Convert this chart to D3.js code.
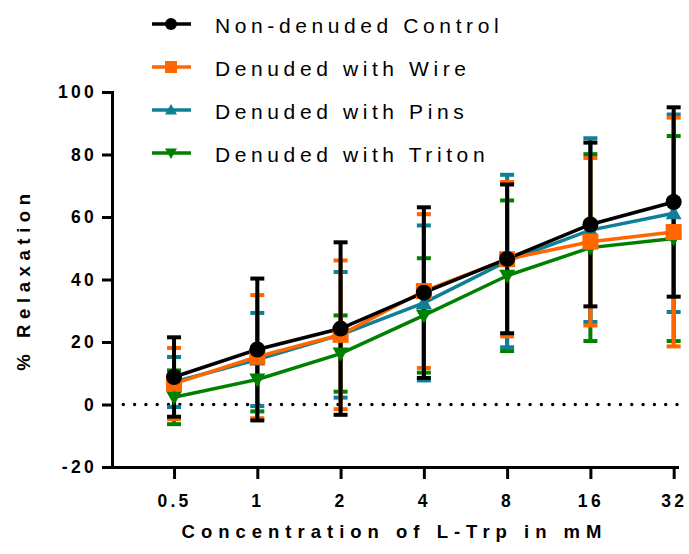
<!DOCTYPE html>
<html>
<head>
<meta charset="utf-8">
<script src="https://cdn.jsdelivr.net/npm/d3@7"></script>
<style>
  body { margin: 0; background: #fff; }
  svg text { font-family: "Liberation Sans", Arial, sans-serif; fill: #000; }
</style>
</head>
<body>
<svg id="chart" width="689" height="554"></svg>
<script>
// concentrations (mM) on a log2 axis
var concLabels = ["0.5", "1", "2", "4", "8", "16", "32"];
var concValues = [0.5, 1, 2, 4, 8, 16, 32];

var seriesNames = ["Non-denuded Control", "Denuded with Wire", "Denuded with Pins", "Denuded with Triton"];
var seriesColors = ["#000000", "#ff6600", "#0e7f96", "#008000"];
var seriesShapes = ["circle", "square", "triangle", "triangleDown"];

// mean % relaxation
var controlMean = [8.8, 17.6, 24.3, 35.8, 46.6, 57.6, 64.8];
var wireMean    = [6.7, 15.3, 22.3, 36.3, 46.5, 52.1, 55.2];
var pinsMean    = [7.2, 14.4, 22.3, 32.5, 45.9, 55.8, 61.2];
var tritonMean  = [2.3, 8.0, 16.3, 28.5, 41.2, 50.2, 53.1];

// error (SD)
var controlErr = [12.7, 22.7, 27.6, 27.3, 23.8, 26.2, 30.3];
var wireErr    = [11.4, 19.7, 23.8, 24.6, 24.7, 26.8, 36.6];
var pinsErr    = [8.0, 14.9, 20.1, 24.8, 27.6, 29.4, 31.6];
var tritonErr  = [8.6, 10.2, 12.2, 18.3, 24.1, 29.9, 32.8];

var yTicks = [-20, 0, 20, 40, 60, 80, 100];

var means = [controlMean, wireMean, pinsMean, tritonMean];
var errs = [controlErr, wireErr, pinsErr, tritonErr];

var svg = d3.select("#chart");

// scales
var x = d3.scaleLinear().domain([-1.745, 5.04]).range([112, 677]);
var y = d3.scaleLinear().domain([-20, 100]).range([467, 92]);

// build series
var series = seriesNames.map(function(name, s) {
  return {
    name: name,
    color: seriesColors[s],
    shape: seriesShapes[s],
    points: concValues.map(function(c, i) {
      return {c: c, mean: means[s][i], err: errs[s][i]};
    })
  };
});

// draw order: last series at the bottom, control on top
var drawOrder = series.slice().reverse();

function markerPath(shape, size) {
  var h = size / 2;
  if (shape === "square") return "M" + (-h) + "," + (-h) + "h" + size + "v" + size + "h" + (-size) + "Z";
  if (shape === "triangle") return "M0," + (-h) + "L" + h + "," + (h * 0.75) + "L" + (-h) + "," + (h * 0.75) + "Z";
  if (shape === "triangleDown") return "M0," + h + "L" + h + "," + (-h * 0.75) + "L" + (-h) + "," + (-h * 0.75) + "Z";
  return null;
}

// zero reference line (dotted)
svg.append("line")
  .attr("x1", 123.3).attr("x2", 677)
  .attr("y1", y(0)).attr("y2", y(0))
  .attr("stroke", "#000")
  .attr("stroke-width", 3.4)
  .attr("stroke-linecap", "round")
  .attr("stroke-dasharray", "0 11.3");

// axes
var yAxis = svg.append("g")
  .attr("transform", "translate(" + x.range()[0] + ",0)")
  .call(d3.axisLeft(y).tickValues(yTicks)
    .tickFormat(function(d) { return String(d); })
    .tickSize(10).tickPadding(5).tickSizeOuter(0));

var xAxis = svg.append("g")
  .attr("transform", "translate(0," + y(-20) + ")")
  .call(d3.axisBottom(x)
    .tickValues(concValues.map(function(c) { return Math.log2(c); }))
    .tickFormat(function(d, i) { return concLabels[i]; })
    .tickSize(12).tickPadding(16).tickSizeOuter(0));

[yAxis, xAxis].forEach(function(ax) {
  ax.select(".domain").attr("stroke-width", 3).attr("stroke-linecap", "square");
  ax.selectAll(".tick line").attr("stroke-width", 3);
  ax.selectAll(".tick text")
    .style("font-size", "17.5px")
    .style("font-weight", "bold")
    .style("letter-spacing", "3.3px");
});

// error bars
var capW = 14;
drawOrder.forEach(function(s) {
  var g = svg.append("g").attr("class", "err");
  s.points.forEach(function(p) {
    var cx = x(Math.log2(p.c));
    g.append("line")
      .attr("x1", cx).attr("x2", cx)
      .attr("y1", y(p.mean + p.err)).attr("y2", y(p.mean - p.err))
      .attr("stroke", s.color).attr("stroke-width", 4);
    [p.mean + p.err, p.mean - p.err].forEach(function(v) {
      g.append("line")
        .attr("x1", cx - capW / 2).attr("x2", cx + capW / 2)
        .attr("y1", y(v)).attr("y2", y(v))
        .attr("stroke", s.color).attr("stroke-width", 4);
    });
  });
});

// lines
var line = d3.line()
  .x(function(d) { return x(Math.log2(d.c)); })
  .y(function(d) { return y(d.mean); });

drawOrder.forEach(function(s) {
  svg.append("path")
    .datum(s.points)
    .attr("d", line)
    .attr("fill", "none")
    .attr("stroke", s.color)
    .attr("stroke-width", 3.5);
});

// markers
drawOrder.forEach(function(s) {
  var g = svg.append("g");
  s.points.forEach(function(p) {
    var cx = x(Math.log2(p.c)), cy = y(p.mean);
    if (s.shape === "circle") {
      g.append("circle").attr("cx", cx).attr("cy", cy).attr("r", 8).attr("fill", s.color);
    } else {
      g.append("path")
        .attr("transform", "translate(" + cx + "," + cy + ")")
        .attr("d", markerPath(s.shape, 16))
        .attr("fill", s.color);
    }
  });
});

// axis titles
svg.append("text")
  .attr("x", 394.5).attr("y", 538)
  .attr("text-anchor", "middle")
  .style("font-size", "18.5px").style("font-weight", "bold")
  .style("letter-spacing", "6px")
  .text("Concentration of L-Trp in mM");

svg.append("text")
  .attr("transform", "translate(30,279.5) rotate(-90)")
  .attr("text-anchor", "middle")
  .style("font-size", "18.5px").style("font-weight", "bold")
  .style("letter-spacing", "5.6px")
  .text("% Relaxation");

// legend
var legend = svg.append("g").selectAll("g")
  .data(series)
  .enter().append("g")
  .attr("transform", function(d, i) { return "translate(0," + (24 + i * 43) + ")"; });

legend.append("line")
  .attr("x1", 152).attr("x2", 191)
  .attr("stroke", function(d) { return d.color; })
  .attr("stroke-width", 3.3);

legend.each(function(d) {
  var g = d3.select(this);
  if (d.shape === "circle") {
    g.append("circle").attr("cx", 171).attr("cy", 0).attr("r", 6).attr("fill", d.color);
  } else {
    g.append("path")
      .attr("transform", "translate(171,0)")
      .attr("d", markerPath(d.shape, 12))
      .attr("fill", d.color);
  }
});

legend.append("text")
  .attr("x", 215).attr("y", 9)
  .style("font-size", "21px")
  .style("letter-spacing", "4.6px")
  .text(function(d) { return d.name; });
</script>
</body>
</html>
